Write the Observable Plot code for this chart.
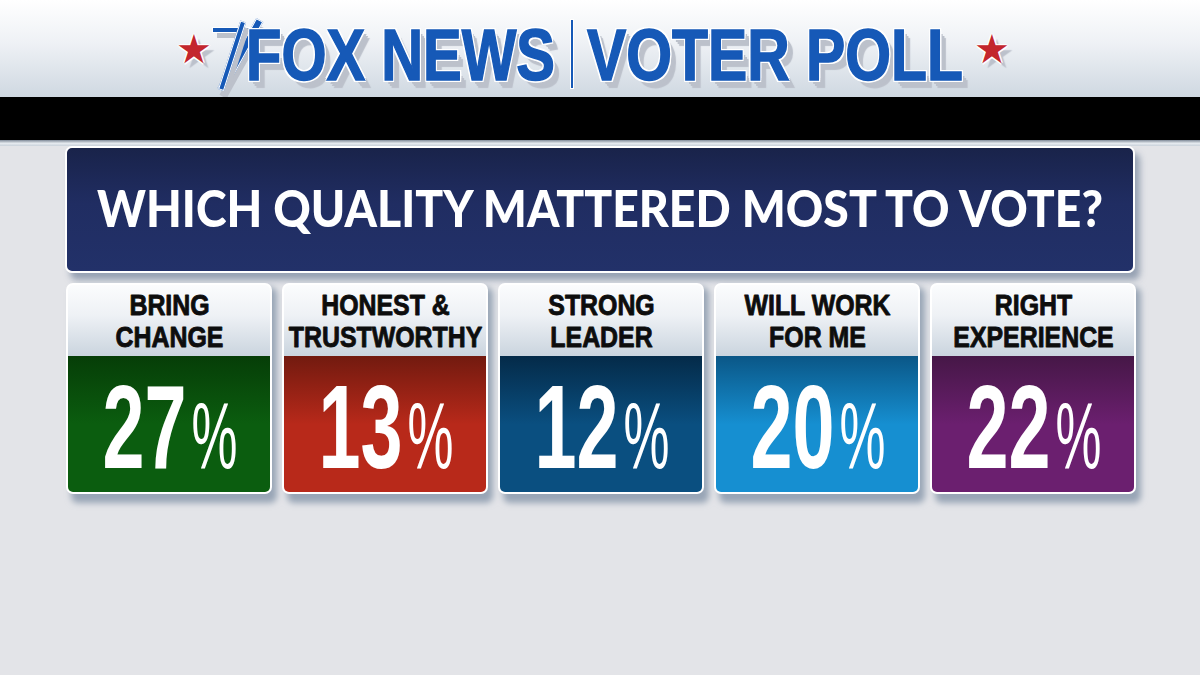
<!DOCTYPE html>
<html>
<head>
<meta charset="utf-8">
<script src="https://cdn.jsdelivr.net/npm/d3@7"></script>
<script src="https://cdn.jsdelivr.net/npm/@observablehq/plot@0.6"></script>
<style>
  html, body { margin: 0; padding: 0; background: #e3e4e8; }
  #page { position: relative; width: 1200px; height: 675px; overflow: hidden; background: #e3e4e8; font-family: "Liberation Sans", Arial, sans-serif; }
  #top { position: absolute; left: 0; top: 0; width: 1200px; height: 97px; background: linear-gradient(#ffffff 0%, #eef1f5 45%, #cfd8e1 100%); }
  #black { position: absolute; left: 0; top: 97px; width: 1200px; height: 43px; background: #000; }
  #strip { position: absolute; left: 0; top: 140px; width: 1200px; height: 6px; background: linear-gradient(#7f8a98, #e6ebf0 55%, #c9d1da); }
  .logo { position: absolute; white-space: nowrap; font-family: "Liberation Sans", Arial, sans-serif; font-weight: 700; font-size: 72px; line-height: 72px; color: #1659b7; transform-origin: 0 0;
    -webkit-text-stroke: 1.5px #1659b7;
    text-shadow: 2px 0 0 #fff, -2px 0 0 #fff, 0 2px 0 #fff, 0 -2px 0 #fff, 2px 2px 0 #fff, -2px -2px 0 #fff, 2px -2px 0 #fff, -2px 2px 0 #fff,
      4px 4px 0 #bcc1cb, 6px 6px 0 #bcc1cb, 8px 8px 1px #bcc1cb; }
  .divider { position: absolute; left: 571px; top: 20px; width: 2px; height: 68px; background: #1659b7; box-shadow: 0 0 0 1px #fff; }
  .beam { position: absolute; background: #1659b7; border: 1.5px solid #fff; transform-origin: 50% 100%; box-shadow: 5px 5px 0 #bcc1cb; }
  .bar { position: absolute; background: #1659b7; border: 1.5px solid #fff; box-shadow: 5px 5px 0 #bcc1cb; }
  .star { position: absolute; font-family: "DejaVu Sans", sans-serif; font-size: 40px; line-height: 40px; color: #c3262d;
    text-shadow: 1.5px 0 0 #fff, -1.5px 0 0 #fff, 0 1.5px 0 #fff, 0 -1.5px 0 #fff, 5px 5px 1px #bcc1cb; }
  #titlebox { position: absolute; left: 65px; top: 146px; width: 1070px; height: 127px; box-sizing: border-box; border: 2px solid #fff; border-radius: 7px;
    background: linear-gradient(#19234a 0%, #202d62 45%, #223169 100%); box-shadow: 5px 7px 6px rgba(125,140,162,0.75); }
  #title { position: absolute; left: 30px; top: 33px; white-space: nowrap; font-family: Lato, "Open Sans", sans-serif; font-weight: 900; font-size: 52px; line-height: 52px; color: #fff; transform-origin: 0 0; }
  #chart { position: absolute; left: 0; top: 273px; width: 1200px; height: 402px; }
</style>
</head>
<body>
<div id="page">
  <div id="top">
    <span class="star" id="starL">★</span>
    <div class="bar" style="left:212px; top:27px; width:38px; height:4px;"></div>
    <div class="beam" style="left:217px; top:10px; width:6px; height:78px; transform: rotate(29deg);"></div>
    <div class="beam" style="left:218px; top:18px; width:4px; height:70px; transform: rotate(18deg);"></div>
    <span class="logo" id="brand"></span>
    <div class="divider"></div>
    <span class="logo" id="brandTag"></span>
    <span class="star" id="starR">★</span>
  </div>
  <div id="black"></div>
  <div id="strip"></div>
  <div id="titlebox"><span id="title"></span></div>
  <div id="chart"></div>
</div>
<script>
// ---- data ----
const brand = "FOX NEWS";
const brandTag = "VOTER POLL";
const headline = "WHICH QUALITY MATTERED MOST TO VOTE?";
const categories = ["BRING\nCHANGE", "HONEST &\nTRUSTWORTHY", "STRONG\nLEADER", "WILL WORK\nFOR ME", "RIGHT\nEXPERIENCE"];
const values = [27, 13, 12, 20, 22];
const valueSuffix = "%";
// ---- styles ----
const panelTopColors = ["#063d07", "#711a0f", "#042a48", "#0a5686", "#451746"];
const panelBottomColors = ["#0b5d0f", "#b8291a", "#0a4f80", "#168fd1", "#6b1f6f"];

// ---- header texts ----
function fit(el, left, width) {
  el.style.left = left + "px";
  el.style.transform = "scaleX(" + (width / el.offsetWidth) + ")";
}
const brandEl = document.getElementById("brand");
brandEl.textContent = brand; brandEl.style.top = "19px";
fit(brandEl, 246, 309);
const tagEl = document.getElementById("brandTag");
tagEl.textContent = brandTag; tagEl.style.top = "19px";
fit(tagEl, 587, 376);
const sL = document.getElementById("starL"), sR = document.getElementById("starR");
sL.style.left = (194 - sL.offsetWidth / 2) + "px"; sL.style.top = "29px";
sR.style.left = (992 - sR.offsetWidth / 2) + "px"; sR.style.top = "29px";
const titleEl = document.getElementById("title");
titleEl.textContent = headline;
fit(titleEl, 30, 1006);

// ---- cards (Plot) ----
const OFFSET = 273, H = 402;
const L = {
  cardTop: 283 - OFFSET, panelTop: 355 - OFFSET, cardBottom: 494 - OFFSET,
  labelBase: 346 - OFFSET, valueBase: 467 - OFFSET
};
const rows = categories.map((c, i) => ({label: c, value: values[i], grad: `url(#panel${i})`}));

const chart = Plot.plot({
  width: 1200, height: H,
  marginTop: 0, marginBottom: 0, marginLeft: 65, marginRight: 64,
  style: {background: "transparent", overflow: "visible"},
  x: {domain: categories, paddingInner: 10 / 216, paddingOuter: 0, axis: null},
  y: {domain: [0, H], range: [0, H], axis: null},
  color: {type: "identity"},
  marks: [
    Plot.barY(rows, {x: "label", y1: L.cardTop + 4, y2: L.cardBottom + 9, dx: 5, fill: "#98a5b6", rx: 7, ariaDescription: "card-shadow"}),
    Plot.barY(rows, {x: "label", y1: L.cardTop, y2: L.cardBottom, fill: "#ffffff", rx: 7, ariaDescription: "card"}),
    Plot.barY(rows, {x: "label", y1: L.cardTop + 2, y2: L.panelTop + 8, insetLeft: 2, insetRight: 2, fill: "url(#labelGrad)", rx: 5, ariaDescription: "label-bg"}),
    Plot.barY(rows, {x: "label", y1: L.panelTop + 1, y2: L.cardBottom - 2, insetLeft: 2, insetRight: 2, fill: "grad", rx: 5, ariaDescription: "panel"}),
    Plot.barY(rows, {x: "label", y1: L.panelTop + 1, y2: L.panelTop + 14, insetLeft: 2, insetRight: 2, fill: "grad", ariaDescription: "panel-top"}),
    Plot.text(rows, {x: "label", y: L.labelBase, text: "label", lineAnchor: "bottom", lineHeight: 1.04,
      fontSize: 30, fontWeight: 700, fontFamily: "Liberation Sans, Arial, sans-serif", fill: "#0d0d0d",
      stroke: "#0d0d0d", strokeWidth: 0.9, ariaDescription: "labels"}),
    Plot.text(rows, {x: "label", y: L.valueBase, text: d => String(d.value), lineAnchor: "bottom", textAnchor: "end", dx: 17,
      fontSize: 118, fontWeight: 700, fontFamily: "Liberation Sans, Arial, sans-serif", fill: "#ffffff", ariaDescription: "numbers"}),
    Plot.text(rows, {x: "label", y: L.valueBase, text: () => valueSuffix, lineAnchor: "bottom", textAnchor: "start", dx: 22,
      fontSize: 94, fontWeight: 400, fontFamily: "Liberation Sans, Arial, sans-serif", fill: "#ffffff", ariaDescription: "percent"})
  ]
});

const svg = d3.select(chart);
const defs = svg.insert("defs", ":first-child");
const lg = defs.append("linearGradient").attr("id", "labelGrad").attr("gradientUnits", "userSpaceOnUse")
  .attr("x1", 0).attr("x2", 0).attr("y1", L.cardTop).attr("y2", L.panelTop);
lg.append("stop").attr("offset", "0%").attr("stop-color", "#fcfdfe");
lg.append("stop").attr("offset", "45%").attr("stop-color", "#eef1f5");
lg.append("stop").attr("offset", "100%").attr("stop-color", "#cbd5df");
panelTopColors.forEach((c, i) => {
  const g = defs.append("linearGradient").attr("id", `panel${i}`).attr("gradientUnits", "userSpaceOnUse")
    .attr("x1", 0).attr("x2", 0).attr("y1", L.panelTop).attr("y2", L.cardBottom);
  g.append("stop").attr("offset", "0%").attr("stop-color", c);
  g.append("stop").attr("offset", "50%").attr("stop-color", panelBottomColors[i]);
  g.append("stop").attr("offset", "100%").attr("stop-color", panelBottomColors[i]);
});
defs.append("filter").attr("id", "soft").attr("x", "-10%").attr("y", "-10%").attr("width", "120%").attr("height", "130%")
  .append("feGaussianBlur").attr("stdDeviation", 3);

const groups = {};
svg.selectAll("g[aria-description]").each(function() { groups[this.getAttribute("aria-description")] = this; });
if (groups["card-shadow"]) d3.select(groups["card-shadow"]).attr("filter", "url(#soft)");

function squeeze(label, s) {
  const g = groups[label];
  if (!g) return;
  d3.select(g).selectAll("text").each(function() {
    let tr = this.getAttribute("transform");
    if (!tr) {
      const x = this.getAttribute("x") || 0, y = this.getAttribute("y");
      tr = `translate(${x},${y && !/em$/.test(y) ? y : 0})`;
      this.removeAttribute("x");
      if (y && !/em$/.test(y)) this.removeAttribute("y");
    }
    this.setAttribute("transform", tr + ` scale(${s},1)`);
  });
}
squeeze("labels", 0.83);
squeeze("numbers", 0.64);
squeeze("percent", 0.55);

document.getElementById("chart").appendChild(chart);
</script>
</body>
</html>
